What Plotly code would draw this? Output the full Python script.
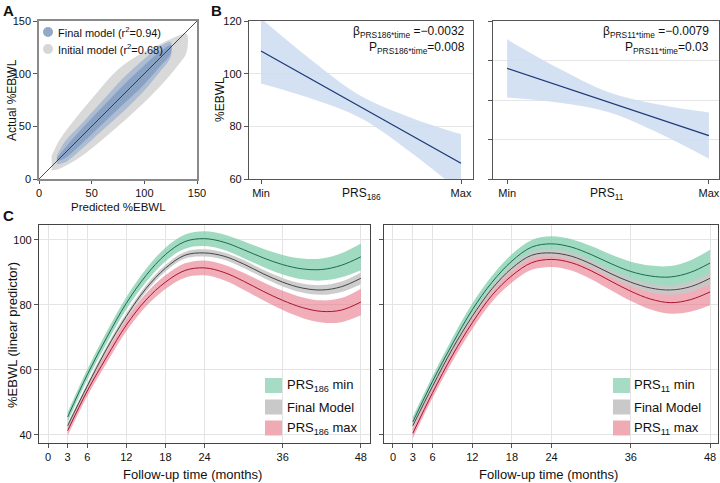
import plotly.graph_objects as go

FONT = "Liberation Sans, Arial, sans-serif"
W, H = 720, 483

# ---------------- Panel A data (cloud envelopes) ----------------
a_init_pred = [12, 20, 35, 55, 75, 95, 115, 132, 140]
a_init_lo = [8, 10, 18, 33, 50, 68, 88, 108, 120]
a_init_hi = [22, 38, 58, 82, 104, 118, 128, 136, 138]
a_final_pred = [17, 25, 40, 60, 80, 100, 115, 125]
a_final_lo = [14, 16, 28, 46, 64, 84, 102, 116]
a_final_hi = [22, 36, 52, 74, 96, 114, 126, 130]
a_core_lo = [17, 20, 33, 52, 71, 90, 107, 119]
a_core_hi = [20, 30, 47, 68, 89, 108, 121, 127]
a_diag = [0, 150]
a_ticks = [0, 50, 100, 150]

# ---------------- Panel B data ----------------
b_prs = [0, 0.25, 0.5, 0.75, 1]
b_line_x = [0, 1]
b186_line = [108.6, 66.0]
b186_upper = [121.0, 105.3, 91.5, 83.3, 77.0]
b186_lower = [96.3, 90.6, 83.1, 70.1, 55.0]
b11_line = [96.0, 62.0]
b11_upper = [110.7, 96.3, 84.1, 77.7, 73.7]
b11_lower = [81.3, 78.7, 73.9, 63.3, 50.3]
b_ticktext = ["Min", "Max"]

# ---------------- Panel C data ----------------
months = [3, 6, 9, 12, 15, 18, 21, 24, 27, 30, 33, 36, 39, 42, 45, 48]
final_fit = [42.8, 55.0, 66.5, 76.5, 85.0, 91.3, 95.3, 96.0, 95.0, 92.6, 89.6, 87.0, 85.2, 84.6, 85.6, 88.2]
final_ci = [0.8, 0.8, 0.9, 0.9, 1.0, 1.0, 1.0, 1.1, 1.1, 1.2, 1.2, 1.3, 1.4, 1.5, 1.6, 1.8]
prs186_min = [45.5, 58.5, 70.0, 80.5, 89.0, 95.5, 99.5, 100.4, 99.3, 97.0, 94.5, 92.4, 91.1, 90.9, 92.2, 94.8]
prs186_max = [41.3, 53.5, 64.0, 73.8, 81.5, 87.0, 90.6, 91.4, 90.0, 87.3, 84.2, 81.4, 79.2, 78.0, 78.4, 80.9]
prs11_min = [44.0, 56.5, 68.0, 78.5, 87.0, 93.5, 97.8, 98.8, 97.8, 95.5, 92.7, 90.3, 88.9, 88.6, 90.0, 92.9]
prs11_max = [40.5, 53.0, 64.5, 74.5, 83.0, 89.0, 93.0, 94.0, 93.0, 90.5, 87.3, 84.2, 81.8, 80.7, 81.6, 84.0]
prs_ci = [1.5, 1.6, 1.8, 1.9, 2.0, 2.1, 2.2, 2.3, 2.4, 2.6, 2.8, 3.0, 3.2, 3.4, 3.7, 4.1]
c_xticks = [0, 3, 6, 12, 18, 24, 36, 48]
c_yticks = [40, 60, 80, 100]

GREEN_BAND = "rgba(120,202,166,0.7)"
GREEN_LINE = "#1d6a52"
GRAY_BAND = "rgba(200,200,200,0.9)"
GRAY_LINE = "#454545"
RED_BAND = "rgba(232,120,138,0.6)"
RED_LINE = "#a8152f"

fig = go.Figure()


def px(x):
    return x / W


def py(y):
    return 1 - y / H


# ---------------- Panel A traces ----------------
def cloud(xs, lo, hi, color, xa, ya):
    fig.add_trace(go.Scatter(
        x=xs + xs[::-1], y=hi + lo[::-1], fill="toself", fillcolor=color,
        mode="lines", line=dict(width=0, shape="spline", smoothing=1.0),
        xaxis=xa, yaxis=ya, hoverinfo="skip", showlegend=False))


cloud(a_init_pred, a_init_lo, a_init_hi, "rgba(210,210,210,0.85)", "x", "y")
cloud(a_final_pred, a_final_lo, a_final_hi, "rgba(165,184,210,0.9)", "x", "y")
cloud(a_final_pred, a_core_lo, a_core_hi, "rgba(135,160,195,0.95)", "x", "y")
fig.add_trace(go.Scatter(x=a_diag, y=a_diag, mode="lines", line=dict(color="#222", width=0.8),
                         xaxis="x", yaxis="y", showlegend=False, hoverinfo="skip"))


# ---------------- Panel B traces ----------------
def band(xs, lo, hi, color, xa, ya, shape="spline"):
    fig.add_trace(go.Scatter(x=xs, y=lo, mode="lines", line=dict(width=0, shape=shape),
                             xaxis=xa, yaxis=ya, showlegend=False, hoverinfo="skip"))
    fig.add_trace(go.Scatter(x=xs, y=hi, mode="lines", line=dict(width=0, shape=shape),
                             fill="tonexty", fillcolor=color,
                             xaxis=xa, yaxis=ya, showlegend=False, hoverinfo="skip"))


BLUE_BAND = "rgba(205,220,240,0.85)"
band(b_prs, b186_lower, b186_upper, BLUE_BAND, "x2", "y2")
fig.add_trace(go.Scatter(x=b_line_x, y=b186_line, mode="lines", line=dict(color="#1b3a78", width=1.3),
                         xaxis="x2", yaxis="y2", showlegend=False))
band(b_prs, b11_lower, b11_upper, BLUE_BAND, "x3", "y3")
fig.add_trace(go.Scatter(x=b_line_x, y=b11_line, mode="lines", line=dict(color="#1b3a78", width=1.3),
                         xaxis="x3", yaxis="y3", showlegend=False))


# ---------------- Panel C traces ----------------
def ci_band(fit, ci, bandcol, xa, ya):
    lo = [f - c for f, c in zip(fit, ci)]
    hi = [f + c for f, c in zip(fit, ci)]
    band(months, lo, hi, bandcol, xa, ya)


def fit_line(fit, linecol, xa, ya):
    fig.add_trace(go.Scatter(x=months, y=fit, mode="lines",
                             line=dict(color=linecol, width=1, shape="spline"),
                             xaxis=xa, yaxis=ya, showlegend=False, hoverinfo="skip"))


for xa, ya, pmin, pmax in [("x4", "y4", prs186_min, prs186_max), ("x5", "y5", prs11_min, prs11_max)]:
    ci_band(pmax, prs_ci, RED_BAND, xa, ya)
    ci_band(pmin, prs_ci, GREEN_BAND, xa, ya)
    ci_band(final_fit, final_ci, GRAY_BAND, xa, ya)
    fit_line(pmax, RED_LINE, xa, ya)
    fit_line(pmin, GREEN_LINE, xa, ya)
    fit_line(final_fit, GRAY_LINE, xa, ya)

# ---------------- Axes ----------------
tickfont = dict(family=FONT, size=11, color="#111")
common = dict(ticks="outside", tickcolor="#555", showline=True, mirror=True,
              zeroline=False, tickfont=tickfont, fixedrange=True, automargin=False)

ydomA = [py(179), py(21)]
ydomC = [py(443), py(225)]

fig.update_layout(
    xaxis=dict(domain=[px(39), px(197)], range=[0, 150], tickvals=a_ticks, showgrid=False, ticklen=3,
               linecolor="#8a8a8a", linewidth=1.5, anchor="y", **common),
    yaxis=dict(domain=ydomA, range=[0, 150], tickvals=a_ticks, showgrid=False, ticklen=4,
               linecolor="#8a8a8a", linewidth=1.5, anchor="x", **common),
    xaxis2=dict(domain=[px(249), px(473)], range=[-0.06, 1.06], tickvals=b_line_x, ticktext=b_ticktext,
                showgrid=False, linecolor="#555", linewidth=1.2, anchor="y2", ticklen=4, **common),
    yaxis2=dict(domain=ydomA, range=[60, 120], tickvals=[60, 80, 100, 120], showgrid=True, ticklen=4,
                gridcolor="#e6e6e6", linecolor="#555", linewidth=1.2, anchor="x2", **common),
    xaxis3=dict(domain=[px(493), px(719)], range=[-0.07, 1.05], tickvals=b_line_x, ticktext=b_ticktext,
                showgrid=False, linecolor="#555", linewidth=1.2, anchor="y3", ticklen=4, **common),
    yaxis3=dict(domain=ydomA, range=[40, 120], tickvals=[40, 60, 80, 100, 120], showticklabels=False,
                ticklen=4, showgrid=True, gridcolor="#e6e6e6", linecolor="#555", linewidth=1.2,
                anchor="x3", **common),
    xaxis4=dict(domain=[px(39), px(370)], range=[-1.4, 49.4], tickvals=c_xticks, showgrid=True, ticklen=4,
                gridcolor="#e4e4e4", linecolor="#444", linewidth=1.2, anchor="y4", **common),
    yaxis4=dict(domain=ydomC, range=[37.5, 104.6], tickvals=c_yticks, showgrid=True, ticklen=4,
                gridcolor="#e4e4e4", linecolor="#444", linewidth=1.2, anchor="x4", **common),
    xaxis5=dict(domain=[px(384), px(718)], range=[-1.36, 49.2], tickvals=c_xticks, showgrid=True, ticklen=4,
                gridcolor="#e4e4e4", linecolor="#444", linewidth=1.2, anchor="y5", **common),
    yaxis5=dict(domain=ydomC, range=[37.5, 104.6], tickvals=c_yticks, showticklabels=False, showgrid=True,
                ticklen=4, gridcolor="#e4e4e4", linecolor="#444", linewidth=1.2, anchor="x5", **common),
)

# ---------------- Annotations ----------------
ann = []


def text(x, y, t, size=12, xanchor="center", yanchor="middle", angle=0, bold=False):
    ann.append(dict(xref="paper", yref="paper", x=px(x), y=py(y), text=("<b>%s</b>" % t) if bold else t,
                    showarrow=False, xanchor=xanchor, yanchor=yanchor, textangle=angle,
                    font=dict(family=FONT, size=size, color="#111")))


# panel letters
text(1, 0, "A", size=15, xanchor="left", yanchor="top", bold=True)
text(209, 0, "B", size=15, xanchor="left", yanchor="top", bold=True)
text(1, 205, "C", size=15, xanchor="left", yanchor="top", bold=True)

# A titles and legend
text(12, 100, "Actual %EBWL", size=12, angle=-90)
text(118, 207, "Predicted %EBWL", size=11.5)
text(56, 32, "Final model (r<sup>2</sup>=0.94)", size=11, xanchor="left")
text(56, 49, "Initial model (r<sup>2</sup>=0.68)", size=11, xanchor="left")

# B titles
text(220, 100, "%EBWL", size=12, angle=-90)
text(361, 194, "PRS<sub>186</sub>", size=12)
text(607, 194, "PRS<sub>11</sub>", size=12)
text(467, 32, "β<sub>PRS186*time</sub> =−0.0032", size=12, xanchor="right")
text(467, 48, "P<sub>PRS186*time</sub>=0.008", size=12, xanchor="right")
text(711, 32, "β<sub>PRS11*time</sub> =−0.0079", size=12, xanchor="right")
text(711, 48, "P<sub>PRS11*time</sub>=0.03", size=12, xanchor="right")

# C titles
text(12, 335, "%EBWL (linear predictor)", size=13, angle=-90)
text(192, 474, "Follow-up time (months)", size=13)
text(548, 474, "Follow-up time (months)", size=13)

# legends for C
shapes = []
legend_rows = [
    ("PRS<sub>%s</sub> min", "#a6dcc6", 385.5),
    ("Final Model", "#c9c9c9", 407),
    ("PRS<sub>%s</sub> max", "#efaab4", 428),
]
for sw_x, tx, sub in [(265, 285, "186"), (613, 632, "11")]:
    for label, col, yc in legend_rows:
        shapes.append(dict(type="rect", xref="paper", yref="paper", x0=px(sw_x), x1=px(sw_x + 17),
                           y0=py(yc + 7.5), y1=py(yc - 7.5), fillcolor=col, line=dict(width=0)))
        text(tx, yc, label % sub if "%s" in label else label, size=13, xanchor="left")

# legend circles for A
for yc, col in [(32, "#92a9c7"), (49, "#d6d6d6")]:
    shapes.append(dict(type="circle", xref="paper", yref="paper", x0=px(43), x1=px(53),
                       y0=py(yc + 5), y1=py(yc - 5), fillcolor=col, line=dict(width=0)))

fig.update_layout(
    width=W, height=H, margin=dict(l=0, r=0, t=0, b=0, autoexpand=False),
    paper_bgcolor="white", plot_bgcolor="white",
    showlegend=False, annotations=ann, shapes=shapes,
    font=dict(family=FONT, size=12, color="#111"),
)

fig.write_html("out.html", config={"displayModeBar": False},
               post_script="document.body.style.margin='0px';document.body.style.padding='0px';")
